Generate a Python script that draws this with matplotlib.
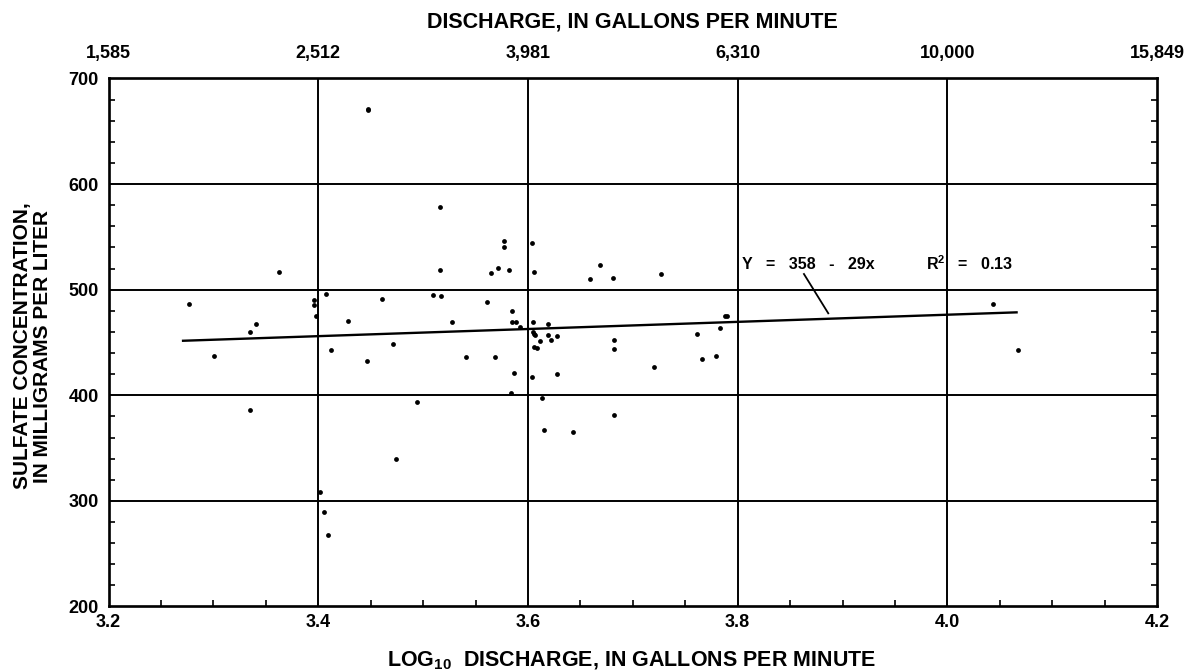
import matplotlib
matplotlib.use("Agg")
import matplotlib.pyplot as plt
import numpy as np

plt.rcParams['font.family'] = ['Liberation Sans', 'DejaVu Sans']
plt.rcParams['font.weight'] = 'bold'
plt.rcParams['mathtext.fontset'] = 'custom'
plt.rcParams['mathtext.rm'] = 'Liberation Sans:bold'
plt.rcParams['mathtext.bf'] = 'Liberation Sans:bold'
plt.rcParams['mathtext.default'] = 'bf'

# log10 discharge (gal/min) and sulfate (mg/L)
log_q = [3.447, 3.4472, 3.516, 3.3625, 3.516, 3.5644, 3.5711, 3.277, 3.3956, 3.3959,
         3.4071, 3.3981, 3.4605, 3.5094, 3.5167, 3.5606, 3.4283, 3.5278, 3.3403, 3.3349,
         3.3002, 3.4118, 3.4712, 3.4467, 3.5406, 3.5685, 3.5768, 3.5768, 3.5819, 3.6041,
         3.606, 3.6591, 3.6684, 3.6814, 3.7271, 3.585, 3.585, 3.5886, 3.5927, 3.6045,
         3.6191, 3.6045, 3.606, 3.607, 3.6191, 3.6277, 3.6112, 3.6219, 3.606, 3.6089,
         3.5864, 3.6277, 3.6038, 3.5838, 3.6134, 3.6155, 3.6426, 3.6817, 3.6817, 3.6817,
         3.7202, 3.7612, 3.7662, 3.7796, 3.7834, 3.7882, 3.7901, 4.0432, 4.0673, 3.3351,
         3.4938, 3.4738, 3.4019, 3.4051, 3.4092]
sulfate = [671.0, 670.4, 577.9, 516.4, 518.8, 515.7, 520.2, 486.1, 490.2, 485.1,
           496.1, 475.0, 491.1, 495.2, 493.9, 488.0, 470.0, 469.3, 467.7, 459.8,
           437.1, 443.1, 448.2, 432.1, 436.2, 436.2, 545.7, 540.3, 518.6, 544.1,
           517.0, 509.8, 523.6, 510.7, 514.8, 479.7, 469.6, 469.6, 464.9, 469.3,
           467.7, 459.6, 458.0, 457.0, 457.3, 456.1, 451.0, 452.0, 445.4, 444.4,
           421.0, 420.1, 417.0, 402.4, 397.1, 366.8, 365.4, 381.2, 452.0, 443.7,
           427.0, 458.0, 434.0, 437.1, 463.9, 474.7, 474.7, 486.4, 443.1, 386.3,
           393.8, 339.9, 308.0, 289.1, 267.3]

# regression line as drawn
fit_x = [3.271, 4.066]
fit_y = [451.6, 478.5]
leader_x = [3.8632, 3.8864]
leader_y = [514.8, 477.6]

bottom_ticks = [3.2, 3.4, 3.6, 3.8, 4.0, 4.2]
bottom_labels = ["3.2", "3.4", "3.6", "3.8", "4.0", "4.2"]
top_labels = ["1,585", "2,512", "3,981", "6,310", "10,000", "15,849"]
y_ticks = [200, 300, 400, 500, 600, 700]

fig = plt.figure(figsize=(11.91, 6.72), dpi=100, facecolor="white")
ax = fig.add_axes([0.0912, 0.0975, 0.8803, 0.7858])

ax.set_xlim(3.2, 4.2)
ax.set_ylim(200, 700)

# grid lines at major positions
for gx in bottom_ticks[1:-1]:
    ax.axvline(gx, color="black", lw=1.4, zorder=1)
for gy in y_ticks[1:-1]:
    ax.axhline(gy, color="black", lw=1.4, zorder=1)

ax.scatter(log_q, sulfate, s=12, color="black", zorder=3, linewidths=0)
ax.plot(fit_x, fit_y, color="black", lw=1.7, zorder=2)
ax.plot(leader_x, leader_y, color="black", lw=1.3, zorder=2)

ax.text(3.8038, 524.2, "Y   =   358   -   29x", fontsize=11.5, fontweight="bold", va="center", ha="left")
ax.text(3.9793, 524.2, "R$^2$   =   0.13", fontsize=11.5, fontweight="bold", va="center", ha="left")

for sp in ax.spines.values():
    sp.set_linewidth(1.9)

ax.set_xticks(bottom_ticks)
ax.set_xticklabels(bottom_labels)
ax.set_xticks(np.arange(3.25, 4.2, 0.05), minor=True)
ax.set_yticks(y_ticks)
ax.set_yticks(np.arange(220, 700, 20), minor=True)
ax.tick_params(axis="both", which="both", direction="in", labelsize=13)
ax.tick_params(which="major", length=0)
ax.tick_params(axis="x", which="major", pad=5.2)
ax.tick_params(axis="y", which="major", pad=7)
ax.tick_params(which="minor", length=4.5, width=1.2, top=True, right=True)

top = ax.twiny()
top.set_xlim(3.2, 4.2)
top.set_xticks(bottom_ticks)
top.set_xticklabels(top_labels)
top.tick_params(axis="x", which="major", length=0, labelsize=13, pad=11.8)

fig.text(0.5306, 1 - 27.5 / 672, "DISCHARGE, IN GALLONS PER MINUTE",
         fontsize=15.5, ha="center", va="baseline")
fig.text(0.5306, 0.009, "LOG$_{10}$  DISCHARGE, IN GALLONS PER MINUTE",
         fontsize=15.5, ha="center", va="baseline")
fig.text(0.0275, 0.485, "SULFATE CONCENTRATION,\nIN MILLIGRAMS PER LITER",
         fontsize=15, ha="center", va="center", rotation=90, linespacing=1.05)

fig.savefig("out.png", dpi=100, facecolor="white")
